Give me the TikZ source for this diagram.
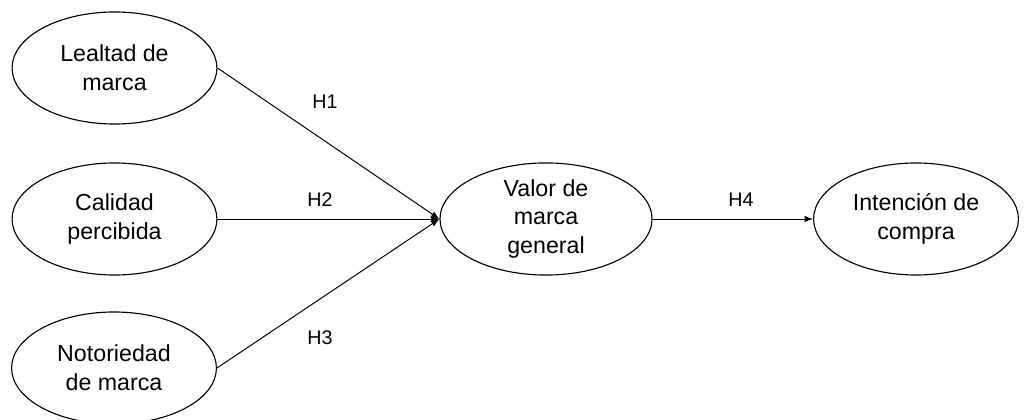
\documentclass[tikz,border=0pt]{standalone}
\usepackage{fontspec}
\setmainfont{Liberation Sans}
\usetikzlibrary{arrows.meta,shapes.geometric}
\tikzset{constructo/.style={draw=black, line width=0.8pt, ellipse, inner sep=0pt,
    minimum width=5.12cm, minimum height=2.8cm, align=center,
    font=\fontsize{16.5}{20.5}\selectfont},
  hipotesis/.style={font=\fontsize{14}{16}\selectfont},
  flecha/.style={black, line width=0.7pt, -{Latex[length=6pt,width=4.5pt]}}}

\begin{document}
\begin{tikzpicture}[x=0.025cm, y=0.025cm]
    \useasboundingbox (0,0) rectangle (1025,420);

    % Nodos
    \node[constructo] (lealtad) at (114.5,352) {Lealtad de\\marca};
    \node[constructo] (calidad) at (114.5,201) {Calidad\\percibida};
    \node[constructo] (notoriedad) at (114,52) {Notoriedad\\de marca};
    \node[constructo, minimum width=5.3cm] (valor) at (546,201) {Valor de\\marca\\general};
    \node[constructo] (intencion) at (916,201) {Intención de\\compra};

    % Relaciones
    \draw[flecha] (lealtad.east) -- (valor.west);
    \draw[flecha] (calidad.east) -- (valor.west);
    \draw[flecha] (notoriedad.east) -- (valor.west);
    \draw[flecha] (valor.east) -- (intencion.west);

    \node[hipotesis] (h1) at (325,318) {H1};
    \node[hipotesis] (h2) at (320,220) {H2};
    \node[hipotesis] (h3) at (320,82) {H3};
    \node[hipotesis] (h4) at (741,220) {H4};
\end{tikzpicture}
\end{document}
